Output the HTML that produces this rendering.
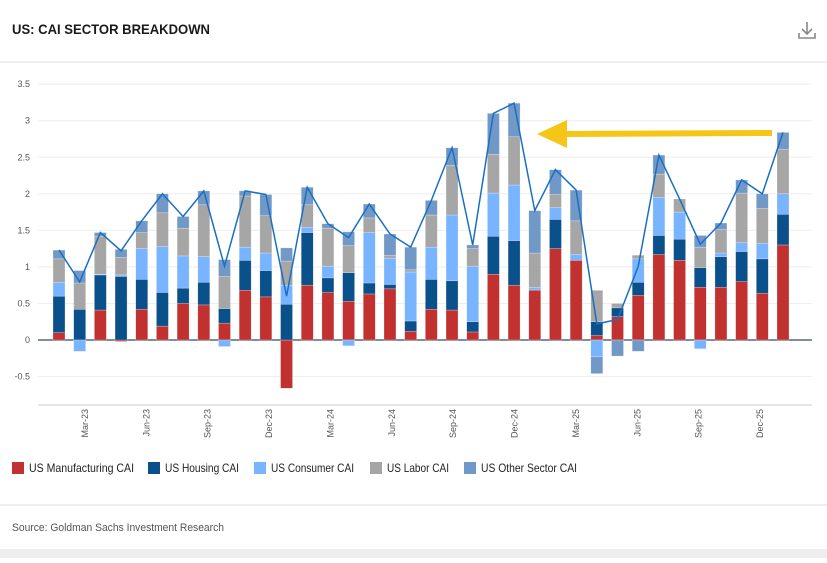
<!DOCTYPE html>
<html><head><meta charset="utf-8"><style>
body{margin:0;width:827px;height:558px;background:#fff;font-family:"Liberation Sans",sans-serif;overflow:hidden}
</style></head><body>
<svg width="827" height="558" id="svg">
<text x="12" y="34" font-size="14" font-weight="bold" fill="#1a1a1a" textLength="198" lengthAdjust="spacingAndGlyphs">US: CAI SECTOR BREAKDOWN</text>
<g stroke="#888" stroke-width="1.6" fill="none">
<path d="M807 22 V34 M802 29 L807 34 L812 29 M799 33 V38 H815 V33"/></g>
<line x1="0" y1="62" x2="827" y2="62" stroke="#ddd"/>
<g id="grid"></g><g id="bars"></g><g id="line"></g><g id="xlabels"></g>
<g>
<line x1="565" y1="134" x2="772" y2="133" stroke="#f5c518" stroke-width="6"/>
<polygon points="537,134 567,120 567,148" fill="#f5c518"/></g>
<line x1="38" y1="405" x2="812" y2="405" stroke="#ccc"/>
<g id="legend" font-size="12" fill="#222"></g>
<line x1="0" y1="505" x2="827" y2="505" stroke="#ddd"/>
<text x="12" y="531" font-size="11" fill="#555" textLength="212" lengthAdjust="spacingAndGlyphs">Source: Goldman Sachs Investment Research</text>
<rect x="0" y="549" width="827" height="9" fill="#eee"/>
</svg>
<script>
const categories=["Jan-23","Feb-23","Mar-23","Apr-23","May-23","Jun-23","Jul-23","Aug-23","Sep-23","Oct-23","Nov-23","Dec-23","Jan-24","Feb-24","Mar-24","Apr-24","May-24","Jun-24","Jul-24","Aug-24","Sep-24","Oct-24","Nov-24","Dec-24","Jan-25","Feb-25","Mar-25","Apr-25","May-25","Jun-25","Jul-25","Aug-25","Sep-25","Oct-25","Nov-25","Dec-25"];
const manufacturing=[0.1,0,0.41,-0.02,0.42,0.19,0.5,0.48,0.23,0.68,0.59,-0.66,0.75,0.65,0.53,0.63,0.7,0.12,0.42,0.41,0.11,0.9,0.75,0.68,1.25,1.09,0.06,0.32,0.61,1.17,1.09,0.72,0.72,0.8,0.64,1.3];
const housing=[0.5,0.42,0.48,0.87,0.41,0.46,0.21,0.31,0.2,0.41,0.36,0.49,0.72,0.2,0.39,0.15,0.06,0.14,0.41,0.4,0.14,0.52,0.61,0.01,0.4,0,0.19,0.12,0.18,0.26,0.29,0.27,0.42,0.41,0.47,0.42];
const consumer=[0.19,-0.155,0.01,0.02,0.42,0.63,0.44,0.35,-0.09,0.18,0.24,0.26,0.07,0.16,-0.08,0.69,0.36,0.67,0.44,0.9,0.76,0.59,0.76,0.03,0.16,0.08,-0.23,0,0.32,0.52,0.37,-0.12,0.05,0.12,0.21,0.28];
const labor=[0.32,0.36,0.52,0.24,0.22,0.46,0.38,0.71,0.44,0.7,0.51,0.33,0.31,0.52,0.37,0.2,0.04,0.03,0.44,0.68,0.24,0.53,0.66,0.47,0.18,0.46,0.43,0.06,0.05,0.32,0.18,0.28,0.32,0.68,0.48,0.61];
const other=[0.12,0.17,0.05,0.11,0.16,0.26,0.16,0.19,0.23,0.07,0.29,0.18,0.24,0.06,0.19,0.19,0.29,0.31,0.2,0.24,0.05,0.56,0.46,0.58,0.34,0.42,-0.23,-0.22,-0.155,0.26,0,0.16,0.09,0.18,0.2,0.23];
const yTicks=[-0.5,0,0.5,1,1.5,2,2.5,3,3.5];
const yTickLabels=["-0.5","0","0.5","1","1.5","2","2.5","3","3.5"];
const xTickCats=["Mar-23","Jun-23","Sep-23","Dec-23","Mar-24","Jun-24","Sep-24","Dec-24","Mar-25","Jun-25","Sep-25","Dec-25"];
const seriesNames=["US Manufacturing CAI","US Housing CAI","US Consumer CAI","US Labor CAI","US Other Sector CAI"];
const colors=["#c0312f","#0a508a","#78b4ff","#a6a6a6","#7199c8"];
const NS="http://www.w3.org/2000/svg";
const y=v=>340-v*73.1;
const x=i=>59+i*(724/(categories.length-1));
function mk(t,a,p){const e=document.createElementNS(NS,t);for(const k in a)e.setAttribute(k,a[k]);p.appendChild(e);return e;}
const grid=document.getElementById('grid');
yTicks.forEach((t,k)=>{
 const l=mk('line',{x1:38,x2:812,y1:y(t),y2:y(t),stroke:t===0?'#34495e':'#eee','stroke-width':t===0?1.2:1},grid);
 
 
 const tx=mk('text',{x:30,y:y(t)+3,'font-size':9,fill:'#555','text-anchor':'end'},grid);
 tx.textContent=yTickLabels[k];
 
 
});
const series=[manufacturing,housing,consumer,labor,other];
const bars=document.getElementById('bars');
categories.forEach((c,i)=>{
 let pos=0,neg=0;
 series.forEach((s,k)=>{
  const v=s[i]; if(!v)return;
  let y0,y1;
  if(v>0){y0=pos;pos+=v;y1=pos;}else{y0=neg;neg+=v;y1=neg;}
  const r=mk('rect',{x:x(i)-6,width:12,y:Math.min(y(y0),y(y1)),height:Math.abs(y(y0)-y(y1)),fill:colors[k],stroke:'rgba(255,255,255,0.5)','stroke-width':0.5},bars);
  
  
 });
});
const totals=categories.map((c,i)=>series.reduce((a,s)=>a+s[i],0));
const pl=mk('polyline',{points:totals.map((t,i)=>x(i)+','+y(t)).join(' '),fill:'none',stroke:'#1a6fc4','stroke-width':1.5},document.getElementById('line'));


const xl=document.getElementById('xlabels');
xTickCats.forEach((c,k)=>{
 const i=categories.indexOf(c);
 const lx=85+(i-2)*(675/33);
 const t=mk('text',{x:0,y:0,'font-size':9,fill:'#555','text-anchor':'end',transform:`translate(${lx+3},409) rotate(-90)`},xl);
 t.textContent=c;
 
 
});
const lg=document.getElementById('legend');
const lx=[12,148,254,370,464];
const lw=[105,74,83,62,96];
seriesNames.forEach((n,k)=>{
 const g=mk('g',{},lg);
 
 
 mk('rect',{x:lx[k],y:462,width:12,height:12,fill:colors[k]},g);
 const t=mk('text',{x:lx[k]+17,y:472,textLength:lw[k],lengthAdjust:'spacingAndGlyphs'},g);t.textContent=n;
});
</script>
</body></html>
